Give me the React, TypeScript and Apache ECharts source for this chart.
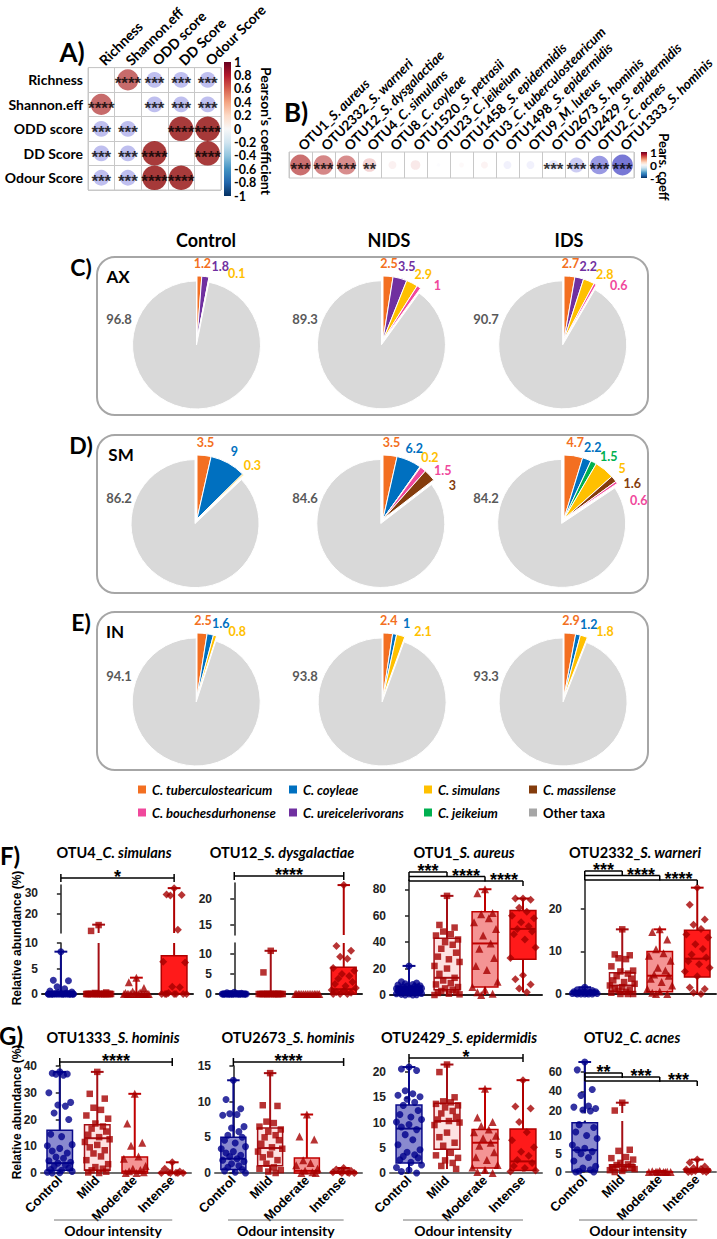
import React, { useEffect, useRef } from "react";
import * as echarts from "echarts";

// ---------------- Panel A: correlation matrix ----------------
const corrVars = ["Richness", "Shannon.eff", "ODD score", "DD Score", "Odour Score"];
const corrValues: (number | null)[][] = [
  [null, 0.72, -0.4, -0.4, -0.4],
  [0.72, null, -0.4, -0.4, -0.4],
  [-0.4, -0.4, null, 0.96, 0.97],
  [-0.4, -0.4, 0.96, null, 0.96],
  [-0.4, -0.4, 0.97, 0.96, null],
];
const corrStars = [
  ["", "****", "***", "***", "***"],
  ["****", "", "***", "***", "***"],
  ["***", "***", "", "****", "****"],
  ["***", "***", "****", "", "****"],
  ["***", "***", "****", "****", ""],
];
const corrTicks = [-1, -0.8, -0.6, -0.4, -0.2, 0, 0.2, 0.4, 0.6, 0.8, 1];

// ---------------- Panel B: OTU correlations ----------------
const otuNames = [
  "OTU1_S. aureus", "OTU2332_S. warneri", "OTU12_S. dysgalactiae", "OTU4_C. simulans",
  "OTU8_C. coyleae", "OTU1520_S. petrasii", "OTU23_C. jeikeium", "OTU1458_S. epidermidis",
  "OTU3_C. tuberculostearicum", "OTU1498_S. epidermidis", "OTU9_M. luteus", "OTU2673_S. hominis",
  "OTU2429_S. epidermidis", "OTU2_C. acnes", "OTU1333_S. hominis",
];
const otuCorr = [0.7, 0.6, 0.58, 0.3, 0.1, 0.15, -0.02, 0.04, 0.08, -0.1, -0.1, -0.15, -0.35, -0.55, -0.7];
const otuStars = ["***", "***", "***", "**", "", "", "", "", "", "", "", "***", "***", "***", "***"];

// ---------------- Panels C-E: pies ----------------
const taxaColors: Record<string, string> = {
  "C. tuberculostearicum": "#F36F21", "C. coyleae": "#0070C0", "C. simulans": "#FFC000",
  "C. massilense": "#843C0C", "C. bouchesdurhonense": "#F0489C", "C. ureicelerivorans": "#7030A0",
  "C. jeikeium": "#00B050", "Other taxa": "#D9D9D9",
};
const pieGroups = ["Control", "NIDS", "IDS"];
const pieSites = ["AX", "SM", "IN"];
const pieAxControl: [string, number][] = [["C. tuberculostearicum", 1.2], ["C. ureicelerivorans", 1.8], ["C. simulans", 0.1], ["Other taxa", 96.8]];
const pieAxNids: [string, number][] = [["C. tuberculostearicum", 2.5], ["C. ureicelerivorans", 3.5], ["C. simulans", 2.9], ["C. bouchesdurhonense", 1], ["Other taxa", 89.3]];
const pieAxIds: [string, number][] = [["C. tuberculostearicum", 2.7], ["C. ureicelerivorans", 2.2], ["C. simulans", 2.8], ["C. bouchesdurhonense", 0.6], ["Other taxa", 90.7]];
const pieSmControl: [string, number][] = [["C. tuberculostearicum", 3.5], ["C. coyleae", 9], ["C. simulans", 0.3], ["Other taxa", 86.2]];
const pieSmNids: [string, number][] = [["C. tuberculostearicum", 3.5], ["C. coyleae", 6.2], ["C. simulans", 0.2], ["C. bouchesdurhonense", 1.5], ["C. massilense", 3], ["Other taxa", 84.6]];
const pieSmIds: [string, number][] = [["C. tuberculostearicum", 4.7], ["C. coyleae", 2.2], ["C. jeikeium", 1.5], ["C. simulans", 5], ["C. massilense", 1.6], ["C. bouchesdurhonense", 0.6], ["Other taxa", 84.2]];
const pieInControl: [string, number][] = [["C. tuberculostearicum", 2.5], ["C. coyleae", 1.6], ["C. simulans", 0.8], ["Other taxa", 94.1]];
const pieInNids: [string, number][] = [["C. tuberculostearicum", 2.4], ["C. coyleae", 1], ["C. simulans", 2.1], ["Other taxa", 93.8]];
const pieInIds: [string, number][] = [["C. tuberculostearicum", 2.9], ["C. coyleae", 1.2], ["C. simulans", 1.8], ["Other taxa", 93.3]];
const pieTable = [
  [pieAxControl, pieAxNids, pieAxIds],
  [pieSmControl, pieSmNids, pieSmIds],
  [pieInControl, pieInNids, pieInIds],
];
const legendOrder = ["C. tuberculostearicum", "C. coyleae", "C. simulans", "C. massilense", "C. bouchesdurhonense", "C. ureicelerivorans", "C. jeikeium", "Other taxa"];

// ---------------- Panels F-G: box plots ----------------
const groups = ["Control", "Mild", "Moderate", "Intense"];
// box stats: [min, Q1, median, Q3, max]
const otu4Box = [[0, 0, 0, 0, 8.3], [0, 0, 0, 0, 15], [0, 0, 0, 0, 3.2], [0, 0, 0, 7.5, 32.5]];
const otu4Control = [8.3, 2.7, 2.6, 1.4, 1.0, 0.6, 0.4, 0.3, 0.2, 0.1, 0, 0, 0, 0, 0, 0, 0, 0, 0, 0, 0, 0, 0, 0, 0, 0, 0, 0, 0, 0];
const otu4Mild = [14.8, 12, 0.3, 0.2, 0, 0, 0, 0, 0, 0, 0, 0, 0, 0, 0, 0, 0, 0, 0, 0, 0, 0, 0, 0];
const otu4Moderate = [3.2, 2.3, 1.2, 0.5, 0.3, 0.2, 0, 0, 0, 0, 0, 0, 0, 0, 0, 0, 0, 0];
const otu4Intense = [32.5, 29.5, 29.2, 29, 12.5, 6.3, 6.2, 1.4, 1.3, 0.2, 0, 0, 0, 0, 0, 0, 0];

const otu12Box = [[0, 0, 0, 0, 0.4], [0, 0, 0, 0, 10.8], [0, 0, 0, 0, 0], [0, 0, 1.2, 6.7, 22.6]];
const otu12Control = [0.4, 0.3, 0.2, 0.1, 0.1, 0, 0, 0, 0, 0, 0, 0, 0, 0, 0, 0, 0, 0, 0, 0, 0, 0, 0, 0, 0];
const otu12Mild = [10.8, 5.4, 0, 0, 0, 0, 0, 0, 0, 0, 0, 0, 0, 0, 0, 0, 0, 0, 0, 0];
const otu12Moderate = [0, 0, 0, 0, 0, 0, 0, 0, 0, 0, 0, 0, 0, 0, 0];
const otu12Intense = [22.6, 12, 10.8, 9.3, 8.8, 6.5, 5.8, 5, 4.5, 3.8, 3, 2.5, 2, 1.5, 1, 0.8, 0.5, 0.3, 0, 0, 0];

const otu1Box = [[0, 1.5, 3.8, 6, 22], [0, 4, 13, 43, 75], [0, 6, 39, 63, 80], [2, 27, 50, 64, 73]];
const otu1Control = [22, 10, 9, 8.5, 8, 7.5, 7, 6.8, 6.5, 6, 6, 5.5, 5, 5, 4.8, 4.5, 4, 4, 3.8, 3.5, 3.2, 3, 3, 2.5, 2.2, 2, 1.8, 1.5, 1.2, 1, 0.8, 0.5, 0.3, 0.1, 0];
const otu1Mild = [75, 53, 51, 48, 46, 45, 42, 40, 38, 35, 32, 29, 27, 25, 22, 20, 16, 13, 11, 9, 8, 6, 5, 4, 3, 2, 1.5, 1, 0.5, 0];
const otu1Moderate = [80, 77, 62, 61, 58, 55, 50, 45, 39, 35, 28, 22, 19, 10, 6, 4, 2, 1, 0];
const otu1Intense = [73, 73, 72, 66, 63, 60, 58, 55, 52, 50, 48, 46, 42, 36, 28, 15, 12, 8, 5, 2];

const otu2332Box = [[0, 0.1, 0.3, 0.6, 1.6], [0, 0.5, 2, 5, 15.2], [0, 0.5, 4.3, 10, 15.2], [0, 4, 8.3, 15, 25]];
const otu2332Control = [1.6, 1.0, 0.8, 0.7, 0.6, 0.5, 0.5, 0.4, 0.4, 0.3, 0.3, 0.2, 0.2, 0.1, 0.1, 0, 0, 0, 0, 0];
const otu2332Mild = [15.2, 9.3, 9.1, 8.4, 8.2, 6.5, 5.5, 5.3, 4.8, 4.2, 3.6, 3.2, 2.8, 2.4, 2, 1.6, 1.3, 1, 0.8, 0.5, 0.3, 0, 0, 0];
const otu2332Moderate = [15.2, 14.6, 12.8, 10.5, 9.6, 9, 7.8, 6.2, 5.5, 4.6, 4.3, 3.6, 2.8, 2, 1.2, 0.6, 0.3, 0, 0];
const otu2332Intense = [25, 21, 17.5, 16.3, 15.3, 14, 13.3, 11.7, 10.6, 9.3, 8.6, 7.7, 7, 6.2, 5.3, 4.2, 1.5, 1.2, 0.3, 0];

const otu1333Box = [[0, 1, 3.7, 16, 37.8], [0, 1, 13, 18, 37.8], [0, 0, 0.6, 6, 29.6], [0, 0, 0, 0.3, 4]];
const otu1333Control = [37.8, 37.3, 37, 36.9, 36.6, 30, 26.4, 25.4, 25, 22.4, 20, 14.5, 13.6, 10.6, 10.2, 9.2, 8.2, 7.5, 6, 5.5, 4.6, 4, 3.7, 3, 2.5, 1.8, 1.3, 1, 0.6, 0.3, 0.1, 0];
const otu1333Mild = [37.8, 29.6, 27.8, 24.4, 23.6, 21.5, 20.3, 18.5, 17.4, 16.6, 15.5, 14.3, 13.4, 12.6, 11.6, 10.5, 9.6, 8.5, 7.3, 6.2, 4.8, 3.3, 2.2, 1.6, 1, 0.5, 0.2, 0];
const otu1333Moderate = [29.6, 18.5, 11.3, 10.2, 6.2, 5.3, 2.6, 1.6, 1.1, 0.7, 0.3, 0, 0];
const otu1333Intense = [4, 1.6, 0.6, 0.3, 0.1, 0, 0, 0, 0];

const otu2673Box = [[0, 0.5, 2, 5, 13], [0, 1, 3.5, 6.3, 14], [0, 0, 0.3, 2.1, 8.2], [0, 0, 0.05, 0.2, 0.7]];
const otu2673Control = [13, 10.3, 9, 8.3, 8.2, 8.1, 6.5, 6.3, 5.8, 5.3, 5, 4.6, 4.2, 3.7, 3.4, 3, 2.8, 2.5, 2.3, 2, 1.8, 1.6, 1.3, 1, 0.8, 0.5, 0.3, 0.1, 0];
const otu2673Mild = [14, 9.5, 9.4, 7.2, 7, 6.5, 6.1, 5.8, 5.3, 5, 4.6, 4.1, 3.6, 3.4, 3, 2.6, 2.2, 1.8, 1.3, 0.8, 0.6, 0.4, 0.2, 0];
const otu2673Moderate = [8.2, 5.1, 4.7, 1.8, 1.4, 1.1, 0.6, 0.3, 0.1, 0, 0];
const otu2673Intense = [0.7, 0.5, 0.3, 0.2, 0.1, 0.1, 0, 0, 0];

const otu2429Box = [[0, 2, 8.8, 13.5, 21], [0.8, 4.7, 10.3, 13.8, 21.5], [0, 1, 6, 8.6, 16.7], [0.3, 0.5, 2.3, 8.7, 18.4]];
const otu2429Control = [21, 20.6, 20.3, 16.3, 15.7, 15.4, 15.1, 14.6, 14, 13.4, 12.4, 11.6, 11.1, 10.6, 10.1, 9.6, 9.1, 8.6, 7.6, 6.6, 5.6, 4.6, 4.1, 3.6, 3.3, 3, 2.6, 2.1, 1.6, 1.1, 0.6, 0.3, 0];
const otu2429Mild = [21.5, 20, 15, 14.2, 14, 13.7, 13.4, 13, 12.3, 11.8, 11.1, 10.6, 10.3, 10, 9.5, 8, 7.1, 6, 5.4, 4, 3.5, 3, 2.5, 2, 1.4, 0.8];
const otu2429Moderate = [16.7, 11, 10.1, 9.3, 8.6, 8.1, 7.4, 6.9, 6, 5.4, 4.1, 3.1, 2.6, 1.6, 1.1, 0.6, 0.2, 0];
const otu2429Intense = [18.4, 13.2, 12.8, 10.1, 8.1, 6.5, 5.1, 4.2, 3.4, 2.6, 2, 1.4, 1, 0.5, 0.3];

const otu2Box = [[0, 0.3, 6, 13.5, 70], [0, 0.5, 1.5, 2, 28.5], [0, 0, 0, 0.1, 0.3], [0, 0.1, 0.4, 0.8, 3.4]];
const otu2Control = [70, 62, 42, 36, 25, 24, 22.5, 21, 20, 13, 12.2, 11, 10, 9.2, 7.4, 6.5, 6.1, 5.6, 5, 4, 3, 1.6, 1.1, 0.6, 0.2, 0, 0];
const otu2Mild = [28.5, 20.5, 6.1, 5.8, 4.1, 3.8, 3.4, 2.5, 2.1, 1.9, 1.5, 1.2, 1, 0.8, 0.5, 0.3, 0];
const otu2Moderate = [0.3, 0.2, 0.1, 0.1, 0, 0, 0, 0, 0];
const otu2Intense = [3.4, 2.6, 1.5, 1.1, 0.8, 0.7, 0.5, 0.3, 0.2, 0.1, 0, 0];

// ---------------- styling ----------------
const LATO = "Lato";
const ARIAL = "Liberation Sans";
const corrPalette = ["#1f1f8f", "#5b5bd0", "#c4c4f2", "#ffffff", "#efc2c2", "#c25353", "#8b0000"];
const groupStyle = [
  { symbol: "circle", size: 7, color: "#00008B", stroke: "#0A0A8A", fill: "#8A8ACF" },
  { symbol: "rect", size: 6.5, color: "#A50000", stroke: "#A50F15", fill: "#FDE2E2" },
  { symbol: "triangle", size: 8, color: "#A50000", stroke: "#C00000", fill: "#F49494" },
  { symbol: "diamond", size: 8, color: "#A50000", stroke: "#B00000", fill: "#FF1A1A" },
];
const JIT = [0, -0.2, 0.2, -0.1, 0.1, -0.29, 0.29, -0.05, 0.15, -0.15, 0.24, -0.24, 0.05, 0.33, -0.33];

function buildOption() {
  const grid: any[] = [], xAxis: any[] = [], yAxis: any[] = [], series: any[] = [], graphic: any[] = [], legend: any[] = [];
  const txt = (x: number, y: number, text: string, o: any = {}) =>
    graphic.push({
      type: "text", x, y, silent: true, rotation: o.rotation || 0, z: 10,
      style: {
        text, fontFamily: o.font || LATO, fontSize: o.size || 14, fontWeight: o.weight || "bold",
        fontStyle: o.fstyle || "normal", fill: o.color || "#000", align: o.align || "center",
        verticalAlign: "middle", rich: o.rich,
      },
    });
  const seg = (x1: number, y1: number, x2: number, y2: number, color = "#000", w = 1.5) =>
    graphic.push({ type: "line", silent: true, z: 10, shape: { x1, y1, x2, y2 }, style: { stroke: color, lineWidth: w } });

  // ---------- A ----------
  grid.push({ left: 88, top: 62, width: 133, height: 128, show: true, borderColor: "#c8c8c8", borderWidth: 1 });
  xAxis.push({
    gridIndex: 0, type: "category", data: corrVars, position: "top",
    axisLine: { show: false }, axisTick: { show: false },
    splitLine: { show: true, lineStyle: { color: "#c8c8c8" } },
    axisLabel: { rotate: -45, margin: 5, fontFamily: LATO, fontWeight: "bold", fontSize: 14, color: "#000" },
  });
  yAxis.push({
    gridIndex: 0, type: "category", data: corrVars, inverse: true,
    axisLine: { show: false }, axisTick: { show: false },
    splitLine: { show: true, lineStyle: { color: "#c8c8c8" } },
    axisLabel: { margin: 5, fontFamily: LATO, fontWeight: "bold", fontSize: 14, color: "#000" },
  });
  const aData: any[] = [];
  corrValues.forEach((row, i) => row.forEach((r, j) => { if (r !== null) aData.push({ value: [j, i, r], stars: corrStars[i][j] }); }));
  series.push({
    type: "scatter", xAxisIndex: 0, yAxisIndex: 0, data: aData, silent: true,
    symbolSize: (v: any) => 25 * Math.sqrt(Math.abs(v[2])),
    label: { show: true, position: "inside", formatter: (p: any) => p.data.stars, fontFamily: ARIAL, fontWeight: "bold", fontSize: 17, color: "#000", offset: [0, 4] },
  });
  grid.push({ left: 224, top: 62, width: 7, height: 134 });
  xAxis.push({ gridIndex: 1, type: "value", show: false });
  yAxis.push({
    gridIndex: 1, type: "value", min: -1, max: 1, position: "right",
    axisLine: { show: false }, axisTick: { show: false }, splitLine: { show: false },
    axisLabel: { customValues: corrTicks, margin: 3, fontFamily: LATO, fontWeight: "bold", fontSize: 12.5, color: "#000", formatter: (v: number) => String(Math.round(v * 10) / 10) },
  });

  // ---------- B ----------
  grid.push({ left: 289, top: 152, width: 349, height: 26, show: true, borderColor: "#c8c8c8", borderWidth: 1 });
  xAxis.push({
    gridIndex: 2, type: "category", data: otuNames, position: "top",
    axisLine: { show: false }, axisTick: { show: false },
    splitLine: { show: true, lineStyle: { color: "#c8c8c8" } },
    axisLabel: {
      rotate: -45, margin: 4, interval: 0,
      formatter: (v: string) => { const k = v.indexOf("_"); return `{n|${v.slice(0, k + 1)}}{s|${v.slice(k + 1)}}`; },
      rich: {
        n: { fontFamily: LATO, fontWeight: "bold", fontSize: 13.5, color: "#000" },
        s: { fontFamily: LATO, fontWeight: "bold", fontStyle: "italic", fontSize: 13.5, color: "#000" },
      },
    },
  });
  yAxis.push({ gridIndex: 2, type: "category", data: ["r"], show: false });
  series.push({
    type: "scatter", xAxisIndex: 2, yAxisIndex: 2, silent: true,
    data: otuCorr.map((r, i) => ({ value: [i, 0, r], stars: otuStars[i] })),
    symbolSize: (v: any) => 25 * Math.sqrt(Math.abs(v[2])),
    label: { show: true, position: "inside", formatter: (p: any) => p.data.stars, fontFamily: ARIAL, fontWeight: "bold", fontSize: 17, color: "#000", offset: [0, 4] },
  });
  grid.push({ left: 641, top: 152, width: 6, height: 26 });
  xAxis.push({ gridIndex: 3, type: "value", show: false });
  yAxis.push({
    gridIndex: 3, type: "value", min: -1, max: 1, position: "right",
    axisLine: { show: false }, axisTick: { show: false }, splitLine: { show: false },
    axisLabel: { customValues: [-1, 0, 1], margin: 3, fontFamily: LATO, fontWeight: "bold", fontSize: 12, color: "#000" },
  });

  const rdbu = () => new echarts.graphic.LinearGradient(0, 0, 0, 1, [
    { offset: 0, color: "#67001F" }, { offset: 0.1, color: "#B2182B" }, { offset: 0.2, color: "#D6604D" },
    { offset: 0.3, color: "#F4A582" }, { offset: 0.4, color: "#FDDBC7" }, { offset: 0.5, color: "#F7F7F7" },
    { offset: 0.6, color: "#D1E5F0" }, { offset: 0.7, color: "#92C5DE" }, { offset: 0.8, color: "#4393C3" },
    { offset: 0.9, color: "#2166AC" }, { offset: 1, color: "#053061" },
  ]);
  graphic.push({ type: "rect", silent: true, shape: { x: 224, y: 62, width: 7, height: 134 }, style: { fill: rdbu() } });
  graphic.push({ type: "rect", silent: true, shape: { x: 641, y: 152, width: 6, height: 26 }, style: { fill: rdbu() } });
  txt(72, 52, "A)", { size: 26 });
  txt(296, 112, "B)", { size: 26 });
  txt(266, 131, "Pearson's coefficient", { size: 14, rotation: -Math.PI / 2 });
  txt(664, 167, "Pears. coeff", { size: 13, rotation: -Math.PI / 2 });

  // ---------- C-E pies ----------
  const pcx = [197, 383, 564];
  const pcy = [340, 519, 697];
  pieGroups.forEach((g, k) => txt([206, 389, 569][k], 240, g, { size: 18 }));
  ["C)", "D)", "E)"].forEach((t, r) => {
    const top = [257, 435, 612][r];
    graphic.push({ type: "rect", silent: true, shape: { x: 97, y: top, width: 551, height: 158, r: 18 }, style: { fill: "none", stroke: "#A6A6A6", lineWidth: 2 } });
    txt(81, top + 10, t, { size: 23 });
    txt([118, 121, 115][r], top + 19, pieSites[r], { size: 17 });
  });
  pieTable.forEach((row, r) => row.forEach((data, c) => {
    const cx = pcx[c], cy = pcy[r];
    const total = data.reduce((s, d) => s + d[1], 0);
    let cum = 0, prev = -1e9;
    const pos = data.map(([name, v]) => {
      const mid = ((cum + v / 2) / total) * 360; cum += v;
      if (name === "Other taxa") return { x: cx - 78, y: cy - 21 };
      const phi = Math.max(mid, prev + 13.5, 4); prev = phi;
      const a = (phi * Math.PI) / 180;
      return { x: cx + 77 * Math.sin(a), y: cy - 77 * Math.cos(a) };
    });
    data.forEach(([name, v], k) => {
      if (name === "Other taxa") txt(pos[k].x, pos[k].y, String(v), { size: 13, color: "#595959" });
    });
    series.push({
      type: "pie", center: [cx, cy], radius: 64, startAngle: 90, clockwise: true, silent: true,
      selectedMode: "single", selectedOffset: 5, avoidLabelOverlap: false,
      itemStyle: { borderColor: "#fff", borderWidth: 1 },
      select: { itemStyle: { color: taxaColors["Other taxa"] } },
      labelLine: { show: false },
      label: { show: true, position: "outside", formatter: "{c}", fontFamily: LATO, fontWeight: "bold", fontSize: 12.5 },
      labelLayout: (p: any) => ({ x: pos[p.dataIndex].x, y: pos[p.dataIndex].y, align: "center", verticalAlign: "middle" }),
      data: data.map(([name, v]) => ({
        name, value: v, selected: name === "Other taxa",
        itemStyle: { color: taxaColors[name] },
        label: { show: name !== "Other taxa", color: taxaColors[name] },
      })),
    });
  }));
  const legendSpots: [number, number][] = [[136, 783], [287, 783], [422, 783], [527, 783], [136, 806], [287, 806], [422, 806], [527, 806]];
  legendOrder.forEach((name, k) => {
    const other = name === "Other taxa";
    legend.push({
      left: legendSpots[k][0], top: legendSpots[k][1], padding: 0, itemWidth: 10, itemHeight: 10, icon: "rect",
      selectedMode: false, itemGap: 0,
      data: [{ name, itemStyle: { color: other ? "#A6A6A6" : taxaColors[name] }, textStyle: { fontStyle: other ? "normal" : "italic" } }],
      textStyle: { fontFamily: LATO, fontWeight: "bold", fontSize: 13, color: "#000", fontStyle: "italic" },
    });
  });

  // ---------- F-G box plots ----------
  const plots: any[] = [
    { t: ["OTU4_", "C. simulans"], tx: 114, box: otu4Box, pts: [otu4Control, otu4Mild, otu4Moderate, otu4Intense], left: 42, width: 151, row: "F",
      segs: [{ top: 943, h: 51, min: 0, max: 10, ticks: [0, 5, 10] }, { top: 885, h: 48, min: 11, max: 34, ticks: [20, 30] }],
      sig: { ys: [878], texts: ["*"] } },
    { t: ["OTU12_", "S. dysgalactiae"], tx: 282, box: otu12Box, pts: [otu12Control, otu12Mild, otu12Moderate, otu12Intense], left: 216, width: 146, row: "F",
      segs: [{ top: 943, h: 51, min: 0, max: 12.75, ticks: [0, 5, 10] }, { top: 883, h: 52, min: 13, max: 23, ticks: [15, 20] }],
      sig: { ys: [876], texts: ["****"] } },
    { t: ["OTU1_", "S. aureus"], tx: 464, box: otu1Box, pts: [otu1Control, otu1Mild, otu1Moderate, otu1Intense], left: 390, width: 152, row: "F",
      segs: [{ top: 880, h: 115, min: 0, max: 87, ticks: [0, 20, 40, 60, 80] }],
      sig: { ys: [872, 876.5, 881], texts: ["***", "****", "****"] } },
    { t: ["OTU2332_", "S. warneri"], tx: 635, box: otu2332Box, pts: [otu2332Control, otu2332Mild, otu2332Moderate, otu2332Intense], left: 566, width: 150, row: "F",
      segs: [{ top: 880, h: 114, min: 0, max: 26.8, ticks: [0, 10, 20] }],
      sig: { ys: [871, 875.5, 880], texts: ["***", "****", "****"] } },
    { t: ["OTU1333_", "S. hominis"], tx: 113, box: otu1333Box, pts: [otu1333Control, otu1333Mild, otu1333Moderate, otu1333Intense], left: 41, width: 150, row: "G",
      segs: [{ top: 1066, h: 107, min: 0, max: 40, ticks: [0, 10, 20, 30, 40] }],
      sig: { ys: [1062], texts: ["****"] } },
    { t: ["OTU2673_", "S. hominis"], tx: 288, box: otu2673Box, pts: [otu2673Control, otu2673Mild, otu2673Moderate, otu2673Intense], left: 215, width: 147, row: "G",
      segs: [{ top: 1066, h: 107, min: 0, max: 15, ticks: [0, 5, 10, 15] }],
      sig: { ys: [1062], texts: ["****"] } },
    { t: ["OTU2429_", "S. epidermidis"], tx: 459, box: otu2429Box, pts: [otu2429Control, otu2429Mild, otu2429Moderate, otu2429Intense], left: 390, width: 152, row: "G",
      segs: [{ top: 1062, h: 111, min: 0, max: 22, ticks: [0, 5, 10, 15, 20] }],
      sig: { ys: [1058], texts: ["*"] } },
    { t: ["OTU2_", "C. acnes"], tx: 632, box: otu2Box, pts: [otu2Control, otu2Mild, otu2Moderate, otu2Intense], left: 566, width: 150, row: "G",
      segs: [{ top: 1121, h: 51, min: 0, max: 14, ticks: [0, 5, 10] }, { top: 1062, h: 51, min: 18, max: 70, ticks: [20, 40, 60] }],
      sig: { ys: [1073, 1077, 1081], texts: ["**", "***", "***"] } },
  ];

  const boxSeries = (gi: number, box: number[][], lo: number, hi: number) => ({
    type: "custom", xAxisIndex: gi, yAxisIndex: gi, silent: true, clip: false,
    data: box.map((b, i) => [i, ...b]),
    encode: { x: 0, y: [1, 2, 3, 4, 5] },
    renderItem: (_p: any, api: any) => {
      const i = api.value(0);
      const mn = api.value(1), q1 = api.value(2), md = api.value(3), q3 = api.value(4), mx = api.value(5);
      const st = groupStyle[i];
      const cl = (v: number) => Math.max(lo, Math.min(hi, v));
      const x = api.coord([i, lo])[0];
      const Y = (v: number) => api.coord([i, cl(v)])[1];
      const bw = api.size([1, 0])[0] * 0.68;
      const cw = bw * 0.5;
      const ls = { stroke: st.stroke, lineWidth: 2 };
      const ch: any[] = [];
      if (mn < hi && q1 > lo && q1 > mn) ch.push({ type: "line", shape: { x1: x, y1: Y(mn), x2: x, y2: Y(q1) }, style: ls });
      if (q3 < hi && mx > lo && mx > q3) ch.push({ type: "line", shape: { x1: x, y1: Y(q3), x2: x, y2: Y(mx) }, style: ls });
      if (mx >= lo && mx <= hi) ch.push({ type: "line", shape: { x1: x - cw / 2, y1: Y(mx), x2: x + cw / 2, y2: Y(mx) }, style: ls });
      if (q3 >= lo && q1 <= hi) ch.push({ type: "rect", shape: { x: x - bw / 2, y: Y(q3), width: bw, height: Math.max(Y(q1) - Y(q3), 0.5) }, style: { fill: st.fill, stroke: st.stroke, lineWidth: 1.5 } });
      if (md >= lo && md <= hi && q3 > q1) ch.push({ type: "line", shape: { x1: x - bw / 2, y1: Y(md), x2: x + bw / 2, y2: Y(md) }, style: ls });
      return { type: "group", children: ch };
    },
  });

  plots.forEach((pd) => {
    const band = pd.width / 4;
    const cxOf = (i: number) => pd.left + (i + 0.5) * band;
    const isG = pd.row === "G";
    pd.segs.forEach((sg: any, si: number) => {
      const gi = grid.length;
      grid.push({ left: pd.left, top: sg.top, width: pd.width, height: sg.h });
      const base = si === 0;
      xAxis.push({
        gridIndex: gi, type: "value", min: -0.5, max: 3.5,
        axisLine: { show: base, onZero: false, lineStyle: { color: isG ? "#6e6e6e" : "#222", width: 2 } },
        axisTick: { show: false }, splitLine: { show: false },
        axisLabel: {
          show: base && isG, customValues: [0, 1, 2, 3], formatter: (v: number) => groups[Math.round(v)],
          rotate: 45, margin: 5, fontFamily: ARIAL, fontWeight: "bold", fontSize: 13, color: "#000",
        },
      });
      yAxis.push({
        gridIndex: gi, type: "value", min: sg.min, max: sg.max,
        axisLine: { show: true, lineStyle: { color: "#222", width: 1.5 } },
        axisTick: { show: true, length: 4, customValues: sg.ticks, lineStyle: { color: "#222", width: 1.5 } },
        splitLine: { show: false },
        axisLabel: { customValues: sg.ticks, margin: 4, fontFamily: ARIAL, fontWeight: "bold", fontSize: 12, color: "#222" },
      });
      series.push(boxSeries(gi, pd.box, sg.min, sg.max));
      const single = pd.segs.length === 1;
      const lowMax = pd.segs[0].max;
      const inSeg = (v: number) => single || (si === 0 ? v <= lowMax : v > lowMax);
      pd.pts.forEach((arr: number[], i: number) => {
        const gs = groupStyle[i];
        const data = arr.map((v, k) => [i + JIT[k % JIT.length], v]).filter((d) => inSeg(d[1]));
        series.push({
          type: "scatter", xAxisIndex: gi, yAxisIndex: gi, silent: true, clip: false,
          symbol: gs.symbol, symbolSize: gs.size, itemStyle: { color: gs.color }, data,
        });
      });
    });
    txt(pd.tx, isG ? 1037 : 852, `{n|${pd.t[0]}}{s|${pd.t[1]}}`, {
      rich: {
        n: { fontFamily: LATO, fontWeight: "bold", fontSize: 14.5, fill: "#000" },
        s: { fontFamily: LATO, fontWeight: "bold", fontStyle: "italic", fontSize: 14.5, fill: "#000" },
      },
    });
    const ys = pd.sig.ys;
    if (ys.length === 1) {
      const x1 = cxOf(0), x2 = cxOf(3), y = ys[0];
      seg(x1, y, x2, y); seg(x1, y - 4, x1, y + 4); seg(x2, y - 4, x2, y + 4);
      txt((x1 + x2) / 2, y - 1, pd.sig.texts[0], { font: ARIAL, size: 18 });
    } else {
      const x0 = cxOf(0);
      seg(x0, ys[0], x0, ys[ys.length - 1]);
      ys.forEach((y: number, k: number) => {
        const xe = cxOf(k + 1);
        seg(x0, y, xe, y);
        seg(xe, y, xe, y + 5);
        txt((cxOf(k) + xe) / 2, y - 1, pd.sig.texts[k], { font: ARIAL, size: 18 });
      });
    }
    if (isG) {
      seg(pd.left + 13, 1220, cxOf(3), 1220, "#777", 1);
      txt((pd.left + 13 + cxOf(3)) / 2, 1230, "Odour intensity", { size: 14 });
    }
  });
  txt(10, 855, "F)", { size: 24 });
  txt(11, 1035, "G)", { size: 24 });
  txt(17, 938, "Relative abundance (%)", { font: ARIAL, size: 12, rotation: Math.PI / 2 });
  txt(17, 1112, "Relative abundance (%)", { font: ARIAL, size: 12, rotation: Math.PI / 2 });

  return {
    animation: false,
    backgroundColor: "#fff",
    textStyle: { fontFamily: LATO },
    visualMap: [{ type: "continuous", show: false, min: -1, max: 1, dimension: 2, seriesIndex: [0, 1], inRange: { color: corrPalette } }],
    grid, xAxis, yAxis, series, graphic, legend,
  };
}

export default function App() {
  const ref = useRef<HTMLDivElement>(null);
  useEffect(() => {
    const chart = echarts.init(ref.current as HTMLDivElement, null, { renderer: "svg" });
    chart.setOption(buildOption() as any);
    return () => chart.dispose();
  }, []);
  return <div ref={ref} style={{ position: "absolute", left: 0, top: 0, width: 717, height: 1239, background: "#fff" }} />;
}
